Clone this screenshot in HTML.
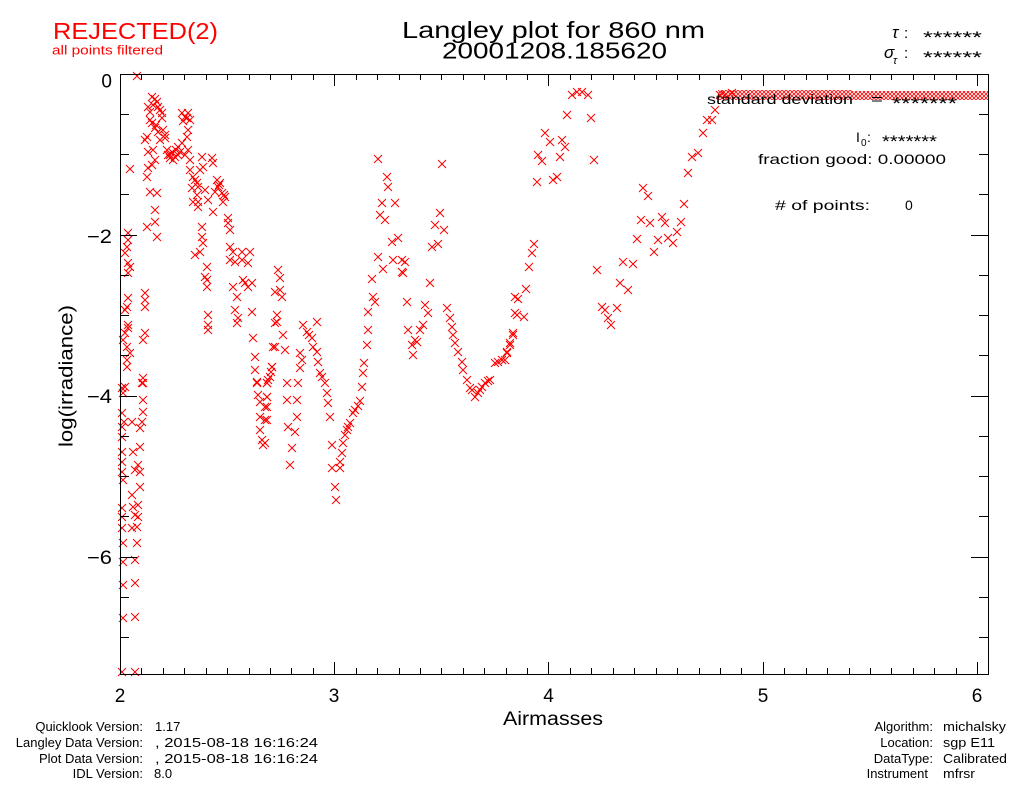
<!DOCTYPE html>
<html><head><meta charset="utf-8"><style>
html,body{margin:0;padding:0;background:#fff;}
svg{display:block;}
text{font-family:"Liberation Sans",sans-serif;}
</style></head><body>
<svg width="1024" height="786" viewBox="0 0 1024 786" xmlns="http://www.w3.org/2000/svg" xmlns:xlink="http://www.w3.org/1999/xlink">
<rect width="1024" height="786" fill="#fff"/>
<defs>
<path id="c" d="M-4-4L4 4M-4 4L4-4" stroke="#f00" stroke-width="1" fill="none"/>
<pattern id="hatch" patternUnits="userSpaceOnUse" x="0" y="0" width="4" height="4">
<path d="M0 0L4 4M0 4L4 0" stroke="#f00" stroke-width="0.8" fill="none"/>
</pattern>
</defs>

<!-- header texts -->
<text x="53" y="39" font-size="23" fill="#f00" textLength="165" lengthAdjust="spacingAndGlyphs">REJECTED(2)</text>
<text x="52" y="54.5" font-size="13" fill="#f00" textLength="111" lengthAdjust="spacingAndGlyphs">all points filtered</text>
<text x="402" y="38" font-size="23" fill="#000" textLength="303" lengthAdjust="spacingAndGlyphs">Langley plot for 860 nm</text>
<text x="442" y="58.5" font-size="23" fill="#000" textLength="225" lengthAdjust="spacingAndGlyphs">20001208.185620</text>

<text x="892" y="38" font-size="17" font-style="italic" fill="#000">τ</text>
<text x="904" y="38" font-size="15" fill="#000">:</text>
<text x="923" y="43" font-size="17" fill="#000" textLength="59" lengthAdjust="spacingAndGlyphs">******</text>
<text x="884" y="58" font-size="17" font-style="italic" fill="#000">σ</text>
<text x="893" y="64" font-size="11" font-style="italic" fill="#000">τ</text>
<text x="904" y="58" font-size="15" fill="#000">:</text>
<text x="923" y="63" font-size="17" fill="#000" textLength="59" lengthAdjust="spacingAndGlyphs">******</text>

<!-- data band -->
<rect x="718" y="90" width="134" height="10" fill="url(#hatch)"/>
<rect x="852" y="91" width="136" height="9" fill="url(#hatch)"/>

<!-- points -->
<g>
<use xlink:href="#c" x="137" y="76"/>
<use xlink:href="#c" x="152" y="97"/><use xlink:href="#c" x="157" y="102"/><use xlink:href="#c" x="158" y="107"/><use xlink:href="#c" x="153" y="105"/><use xlink:href="#c" x="148" y="107"/><use xlink:href="#c" x="162" y="113"/><use xlink:href="#c" x="162" y="118"/><use xlink:href="#c" x="150" y="120"/><use xlink:href="#c" x="152" y="123"/><use xlink:href="#c" x="155" y="128"/><use xlink:href="#c" x="158" y="132"/><use xlink:href="#c" x="165" y="135"/><use xlink:href="#c" x="165" y="138"/><use xlink:href="#c" x="147" y="137"/><use xlink:href="#c" x="145" y="140"/><use xlink:href="#c" x="148" y="152"/><use xlink:href="#c" x="153" y="150"/><use xlink:href="#c" x="155" y="160"/><use xlink:href="#c" x="152" y="165"/><use xlink:href="#c" x="148" y="168"/><use xlink:href="#c" x="147" y="177"/><use xlink:href="#c" x="150" y="192"/><use xlink:href="#c" x="157" y="193"/><use xlink:href="#c" x="155" y="210"/><use xlink:href="#c" x="155" y="222"/><use xlink:href="#c" x="147" y="227"/><use xlink:href="#c" x="157" y="237"/><use xlink:href="#c" x="130" y="169"/>
<use xlink:href="#c" x="155" y="99"/><use xlink:href="#c" x="160" y="110"/><use xlink:href="#c" x="150" y="112"/><use xlink:href="#c" x="156" y="125"/><use xlink:href="#c" x="163" y="130"/><use xlink:href="#c" x="160" y="140"/>
<use xlink:href="#c" x="185" y="117"/><use xlink:href="#c" x="182" y="113"/><use xlink:href="#c" x="187" y="118"/><use xlink:href="#c" x="183" y="121"/><use xlink:href="#c" x="188" y="113"/><use xlink:href="#c" x="190" y="120"/>
<use xlink:href="#c" x="167" y="150"/><use xlink:href="#c" x="170" y="155"/><use xlink:href="#c" x="175" y="157"/><use xlink:href="#c" x="173" y="160"/><use xlink:href="#c" x="178" y="147"/><use xlink:href="#c" x="182" y="143"/><use xlink:href="#c" x="180" y="152"/><use xlink:href="#c" x="185" y="155"/><use xlink:href="#c" x="168" y="155"/><use xlink:href="#c" x="172" y="152"/><use xlink:href="#c" x="176" y="150"/><use xlink:href="#c" x="170" y="158"/><use xlink:href="#c" x="178" y="155"/>
<use xlink:href="#c" x="188" y="130"/><use xlink:href="#c" x="187" y="137"/><use xlink:href="#c" x="188" y="150"/><use xlink:href="#c" x="190" y="160"/>
<use xlink:href="#c" x="190" y="170"/><use xlink:href="#c" x="193" y="177"/><use xlink:href="#c" x="195" y="180"/><use xlink:href="#c" x="197" y="183"/><use xlink:href="#c" x="198" y="187"/><use xlink:href="#c" x="192" y="188"/><use xlink:href="#c" x="197" y="195"/><use xlink:href="#c" x="198" y="202"/><use xlink:href="#c" x="193" y="202"/><use xlink:href="#c" x="198" y="207"/>
<use xlink:href="#c" x="202" y="157"/><use xlink:href="#c" x="212" y="158"/><use xlink:href="#c" x="213" y="163"/><use xlink:href="#c" x="203" y="167"/><use xlink:href="#c" x="200" y="170"/><use xlink:href="#c" x="205" y="190"/><use xlink:href="#c" x="217" y="180"/><use xlink:href="#c" x="220" y="183"/><use xlink:href="#c" x="218" y="187"/><use xlink:href="#c" x="222" y="193"/><use xlink:href="#c" x="225" y="197"/><use xlink:href="#c" x="223" y="202"/><use xlink:href="#c" x="215" y="192"/><use xlink:href="#c" x="213" y="212"/><use xlink:href="#c" x="208" y="200"/><use xlink:href="#c" x="219" y="185"/><use xlink:href="#c" x="224" y="195"/>
<use xlink:href="#c" x="228" y="218"/><use xlink:href="#c" x="228" y="223"/><use xlink:href="#c" x="230" y="230"/>
<use xlink:href="#c" x="202" y="227"/><use xlink:href="#c" x="202" y="237"/><use xlink:href="#c" x="203" y="243"/><use xlink:href="#c" x="200" y="252"/><use xlink:href="#c" x="195" y="255"/>
<use xlink:href="#c" x="207" y="267"/><use xlink:href="#c" x="205" y="277"/><use xlink:href="#c" x="207" y="280"/><use xlink:href="#c" x="207" y="287"/>
<use xlink:href="#c" x="208" y="315"/><use xlink:href="#c" x="208" y="325"/><use xlink:href="#c" x="208" y="330"/>
<use xlink:href="#c" x="230" y="247"/><use xlink:href="#c" x="233" y="252"/><use xlink:href="#c" x="230" y="260"/><use xlink:href="#c" x="235" y="262"/><use xlink:href="#c" x="242" y="252"/><use xlink:href="#c" x="242" y="260"/><use xlink:href="#c" x="250" y="252"/><use xlink:href="#c" x="248" y="263"/><use xlink:href="#c" x="243" y="280"/><use xlink:href="#c" x="245" y="283"/><use xlink:href="#c" x="248" y="287"/><use xlink:href="#c" x="252" y="283"/><use xlink:href="#c" x="233" y="287"/><use xlink:href="#c" x="237" y="297"/><use xlink:href="#c" x="235" y="310"/><use xlink:href="#c" x="238" y="318"/><use xlink:href="#c" x="237" y="323"/><use xlink:href="#c" x="252" y="312"/><use xlink:href="#c" x="253" y="338"/><use xlink:href="#c" x="255" y="357"/><use xlink:href="#c" x="255" y="370"/><use xlink:href="#c" x="257" y="382"/><use xlink:href="#c" x="268" y="380"/><use xlink:href="#c" x="272" y="367"/><use xlink:href="#c" x="273" y="347"/><use xlink:href="#c" x="275" y="323"/><use xlink:href="#c" x="275" y="292"/>
<use xlink:href="#c" x="128" y="233"/><use xlink:href="#c" x="128" y="240"/><use xlink:href="#c" x="127" y="247"/><use xlink:href="#c" x="125" y="253"/><use xlink:href="#c" x="128" y="263"/><use xlink:href="#c" x="130" y="267"/><use xlink:href="#c" x="128" y="273"/><use xlink:href="#c" x="128" y="298"/><use xlink:href="#c" x="127" y="307"/><use xlink:href="#c" x="125" y="310"/><use xlink:href="#c" x="128" y="325"/><use xlink:href="#c" x="128" y="328"/><use xlink:href="#c" x="125" y="333"/><use xlink:href="#c" x="127" y="347"/><use xlink:href="#c" x="130" y="353"/><use xlink:href="#c" x="127" y="360"/><use xlink:href="#c" x="127" y="367"/><use xlink:href="#c" x="125" y="387"/><use xlink:href="#c" x="123" y="340"/>
<use xlink:href="#c" x="145" y="293"/><use xlink:href="#c" x="145" y="300"/><use xlink:href="#c" x="145" y="307"/><use xlink:href="#c" x="145" y="333"/><use xlink:href="#c" x="143" y="340"/><use xlink:href="#c" x="143" y="378"/><use xlink:href="#c" x="142" y="383"/>
<use xlink:href="#c" x="122" y="388"/><use xlink:href="#c" x="123" y="393"/><use xlink:href="#c" x="122" y="413"/><use xlink:href="#c" x="124" y="422"/><use xlink:href="#c" x="122" y="427"/><use xlink:href="#c" x="122" y="437"/><use xlink:href="#c" x="122" y="452"/><use xlink:href="#c" x="122" y="462"/><use xlink:href="#c" x="122" y="472"/><use xlink:href="#c" x="123" y="480"/><use xlink:href="#c" x="122" y="508"/><use xlink:href="#c" x="122" y="517"/><use xlink:href="#c" x="122" y="528"/><use xlink:href="#c" x="123" y="543"/><use xlink:href="#c" x="123" y="562"/><use xlink:href="#c" x="123" y="585"/><use xlink:href="#c" x="123" y="618"/><use xlink:href="#c" x="122" y="672"/>
<use xlink:href="#c" x="143" y="383"/><use xlink:href="#c" x="143" y="400"/><use xlink:href="#c" x="143" y="412"/><use xlink:href="#c" x="142" y="422"/><use xlink:href="#c" x="140" y="428"/><use xlink:href="#c" x="132" y="422"/><use xlink:href="#c" x="133" y="452"/><use xlink:href="#c" x="140" y="447"/><use xlink:href="#c" x="138" y="465"/><use xlink:href="#c" x="140" y="472"/><use xlink:href="#c" x="135" y="470"/><use xlink:href="#c" x="140" y="487"/><use xlink:href="#c" x="132" y="495"/><use xlink:href="#c" x="138" y="505"/><use xlink:href="#c" x="133" y="507"/><use xlink:href="#c" x="135" y="515"/><use xlink:href="#c" x="138" y="517"/><use xlink:href="#c" x="137" y="527"/><use xlink:href="#c" x="132" y="528"/><use xlink:href="#c" x="137" y="543"/><use xlink:href="#c" x="135" y="560"/><use xlink:href="#c" x="135" y="583"/><use xlink:href="#c" x="135" y="617"/><use xlink:href="#c" x="135" y="672"/>
<use xlink:href="#c" x="257" y="383"/><use xlink:href="#c" x="267" y="383"/><use xlink:href="#c" x="258" y="395"/><use xlink:href="#c" x="267" y="397"/><use xlink:href="#c" x="260" y="402"/><use xlink:href="#c" x="265" y="407"/><use xlink:href="#c" x="260" y="417"/><use xlink:href="#c" x="265" y="420"/><use xlink:href="#c" x="260" y="430"/><use xlink:href="#c" x="262" y="440"/><use xlink:href="#c" x="263" y="445"/>
<use xlink:href="#c" x="378" y="159"/><use xlink:href="#c" x="387" y="177"/><use xlink:href="#c" x="388" y="187"/><use xlink:href="#c" x="382" y="203"/><use xlink:href="#c" x="395" y="203"/><use xlink:href="#c" x="380" y="215"/><use xlink:href="#c" x="385" y="220"/><use xlink:href="#c" x="392" y="242"/><use xlink:href="#c" x="398" y="238"/><use xlink:href="#c" x="378" y="257"/><use xlink:href="#c" x="393" y="260"/><use xlink:href="#c" x="402" y="260"/><use xlink:href="#c" x="405" y="262"/><use xlink:href="#c" x="383" y="269"/><use xlink:href="#c" x="402" y="272"/><use xlink:href="#c" x="403" y="273"/><use xlink:href="#c" x="372" y="279"/><use xlink:href="#c" x="373" y="297"/><use xlink:href="#c" x="375" y="302"/><use xlink:href="#c" x="368" y="312"/><use xlink:href="#c" x="368" y="330"/><use xlink:href="#c" x="367" y="345"/><use xlink:href="#c" x="364" y="363"/><use xlink:href="#c" x="363" y="373"/><use xlink:href="#c" x="362" y="387"/><use xlink:href="#c" x="360" y="401"/><use xlink:href="#c" x="358" y="406"/><use xlink:href="#c" x="353" y="413"/><use xlink:href="#c" x="350" y="423"/><use xlink:href="#c" x="347" y="430"/><use xlink:href="#c" x="345" y="435"/><use xlink:href="#c" x="343" y="443"/><use xlink:href="#c" x="342" y="453"/><use xlink:href="#c" x="340" y="462"/><use xlink:href="#c" x="332" y="445"/><use xlink:href="#c" x="332" y="468"/><use xlink:href="#c" x="340" y="468"/><use xlink:href="#c" x="335" y="487"/><use xlink:href="#c" x="336" y="500"/><use xlink:href="#c" x="355" y="410"/><use xlink:href="#c" x="348" y="427"/>
<use xlink:href="#c" x="442" y="164"/><use xlink:href="#c" x="440" y="213"/><use xlink:href="#c" x="435" y="225"/><use xlink:href="#c" x="444" y="230"/><use xlink:href="#c" x="432" y="247"/><use xlink:href="#c" x="438" y="244"/><use xlink:href="#c" x="430" y="283"/><use xlink:href="#c" x="407" y="302"/><use xlink:href="#c" x="425" y="305"/><use xlink:href="#c" x="428" y="313"/><use xlink:href="#c" x="423" y="325"/><use xlink:href="#c" x="420" y="330"/><use xlink:href="#c" x="408" y="330"/><use xlink:href="#c" x="417" y="342"/><use xlink:href="#c" x="412" y="345"/><use xlink:href="#c" x="413" y="355"/><use xlink:href="#c" x="415" y="340"/>
<use xlink:href="#c" x="447" y="308"/><use xlink:href="#c" x="450" y="318"/><use xlink:href="#c" x="452" y="327"/><use xlink:href="#c" x="453" y="335"/><use xlink:href="#c" x="455" y="343"/><use xlink:href="#c" x="458" y="352"/><use xlink:href="#c" x="462" y="362"/><use xlink:href="#c" x="463" y="370"/><use xlink:href="#c" x="467" y="380"/><use xlink:href="#c" x="470" y="388"/><use xlink:href="#c" x="475" y="397"/><use xlink:href="#c" x="480" y="390"/><use xlink:href="#c" x="485" y="383"/><use xlink:href="#c" x="490" y="380"/><use xlink:href="#c" x="495" y="363"/><use xlink:href="#c" x="502" y="360"/><use xlink:href="#c" x="507" y="352"/><use xlink:href="#c" x="510" y="343"/><use xlink:href="#c" x="513" y="333"/><use xlink:href="#c" x="515" y="313"/><use xlink:href="#c" x="515" y="297"/><use xlink:href="#c" x="472" y="390"/><use xlink:href="#c" x="478" y="393"/><use xlink:href="#c" x="482" y="387"/><use xlink:href="#c" x="488" y="381"/><use xlink:href="#c" x="498" y="362"/>
<use xlink:href="#c" x="278" y="270"/><use xlink:href="#c" x="280" y="278"/><use xlink:href="#c" x="280" y="290"/><use xlink:href="#c" x="282" y="297"/><use xlink:href="#c" x="277" y="315"/><use xlink:href="#c" x="277" y="322"/><use xlink:href="#c" x="283" y="335"/><use xlink:href="#c" x="275" y="347"/><use xlink:href="#c" x="285" y="350"/><use xlink:href="#c" x="272" y="367"/><use xlink:href="#c" x="270" y="377"/><use xlink:href="#c" x="267" y="383"/><use xlink:href="#c" x="267" y="397"/><use xlink:href="#c" x="267" y="407"/><use xlink:href="#c" x="267" y="420"/><use xlink:href="#c" x="265" y="443"/><use xlink:href="#c" x="287" y="383"/><use xlink:href="#c" x="298" y="383"/><use xlink:href="#c" x="287" y="400"/><use xlink:href="#c" x="297" y="400"/><use xlink:href="#c" x="297" y="417"/><use xlink:href="#c" x="288" y="427"/><use xlink:href="#c" x="295" y="432"/><use xlink:href="#c" x="292" y="448"/><use xlink:href="#c" x="290" y="465"/><use xlink:href="#c" x="271" y="372"/>
<use xlink:href="#c" x="300" y="353"/><use xlink:href="#c" x="302" y="360"/><use xlink:href="#c" x="300" y="368"/><use xlink:href="#c" x="303" y="325"/><use xlink:href="#c" x="307" y="332"/><use xlink:href="#c" x="312" y="338"/><use xlink:href="#c" x="317" y="322"/><use xlink:href="#c" x="313" y="347"/><use xlink:href="#c" x="317" y="352"/><use xlink:href="#c" x="318" y="362"/><use xlink:href="#c" x="322" y="377"/><use xlink:href="#c" x="325" y="383"/><use xlink:href="#c" x="327" y="393"/><use xlink:href="#c" x="328" y="403"/><use xlink:href="#c" x="330" y="417"/><use xlink:href="#c" x="309" y="335"/><use xlink:href="#c" x="320" y="373"/>
<use xlink:href="#c" x="572" y="95"/><use xlink:href="#c" x="582" y="92"/><use xlink:href="#c" x="588" y="95"/><use xlink:href="#c" x="577" y="92"/><use xlink:href="#c" x="567" y="115"/><use xlink:href="#c" x="591" y="118"/><use xlink:href="#c" x="545" y="133"/><use xlink:href="#c" x="550" y="142"/><use xlink:href="#c" x="562" y="140"/><use xlink:href="#c" x="565" y="147"/><use xlink:href="#c" x="538" y="155"/><use xlink:href="#c" x="542" y="161"/><use xlink:href="#c" x="560" y="157"/><use xlink:href="#c" x="594" y="160"/><use xlink:href="#c" x="537" y="182"/><use xlink:href="#c" x="553" y="180"/><use xlink:href="#c" x="557" y="177"/>
<use xlink:href="#c" x="534" y="244"/><use xlink:href="#c" x="532" y="253"/><use xlink:href="#c" x="529" y="267"/><use xlink:href="#c" x="526" y="289"/><use xlink:href="#c" x="518" y="299"/><use xlink:href="#c" x="517" y="315"/><use xlink:href="#c" x="524" y="317"/><use xlink:href="#c" x="513" y="335"/><use xlink:href="#c" x="510" y="345"/><use xlink:href="#c" x="507" y="353"/><use xlink:href="#c" x="505" y="360"/>
<use xlink:href="#c" x="597" y="270"/><use xlink:href="#c" x="602" y="307"/><use xlink:href="#c" x="617" y="308"/><use xlink:href="#c" x="608" y="318"/><use xlink:href="#c" x="611" y="325"/><use xlink:href="#c" x="605" y="310"/><use xlink:href="#c" x="620" y="283"/><use xlink:href="#c" x="628" y="290"/><use xlink:href="#c" x="623" y="262"/><use xlink:href="#c" x="633" y="264"/><use xlink:href="#c" x="637" y="239"/><use xlink:href="#c" x="641" y="220"/><use xlink:href="#c" x="650" y="223"/><use xlink:href="#c" x="643" y="188"/><use xlink:href="#c" x="648" y="196"/><use xlink:href="#c" x="654" y="252"/><use xlink:href="#c" x="658" y="240"/><use xlink:href="#c" x="662" y="217"/><use xlink:href="#c" x="665" y="223"/><use xlink:href="#c" x="668" y="238"/><use xlink:href="#c" x="673" y="243"/><use xlink:href="#c" x="677" y="232"/><use xlink:href="#c" x="681" y="222"/><use xlink:href="#c" x="684" y="204"/><use xlink:href="#c" x="688" y="173"/><use xlink:href="#c" x="692" y="157"/><use xlink:href="#c" x="698" y="153"/><use xlink:href="#c" x="703" y="133"/><use xlink:href="#c" x="707" y="120"/><use xlink:href="#c" x="712" y="120"/><use xlink:href="#c" x="715" y="110"/><use xlink:href="#c" x="725" y="95"/><use xlink:href="#c" x="732" y="93"/><use xlink:href="#c" x="720" y="95"/>
</g>

<!-- axes -->
<g stroke="#000" stroke-width="1" fill="none" shape-rendering="crispEdges">
<rect x="120.5" y="74.5" width="868" height="600"/>
<path d="M120.5 674v-12M334.5 674v-12M548.5 674v-12M763.5 674v-12M977.5 674v-12M120.5 74v12M334.5 74v12M548.5 74v12M763.5 74v12M977.5 74v12"/>
<path d="M141.5 674v-6M163.5 674v-6M184.5 674v-6M206.5 674v-6M227.5 674v-6M249.5 674v-6M270.5 674v-6M291.5 674v-6M313.5 674v-6M356.5 674v-6M377.5 674v-6M399.5 674v-6M420.5 674v-6M441.5 674v-6M463.5 674v-6M484.5 674v-6M506.5 674v-6M527.5 674v-6M570.5 674v-6M591.5 674v-6M613.5 674v-6M634.5 674v-6M656.5 674v-6M677.5 674v-6M699.5 674v-6M720.5 674v-6M741.5 674v-6M784.5 674v-6M806.5 674v-6M827.5 674v-6M849.5 674v-6M870.5 674v-6M891.5 674v-6M913.5 674v-6M934.5 674v-6M956.5 674v-6"/>
<path d="M141.5 74v6M163.5 74v6M184.5 74v6M206.5 74v6M227.5 74v6M249.5 74v6M270.5 74v6M291.5 74v6M313.5 74v6M356.5 74v6M377.5 74v6M399.5 74v6M420.5 74v6M441.5 74v6M463.5 74v6M484.5 74v6M506.5 74v6M527.5 74v6M570.5 74v6M591.5 74v6M613.5 74v6M634.5 74v6M656.5 74v6M677.5 74v6M699.5 74v6M720.5 74v6M741.5 74v6M784.5 74v6M806.5 74v6M827.5 74v6M849.5 74v6M870.5 74v6M891.5 74v6M913.5 74v6M934.5 74v6M956.5 74v6"/>
<path d="M120 235.5h17M120 396.5h17M120 557.5h17M988 235.5h-17M988 396.5h-17M988 557.5h-17"/>
<path d="M120 114.5h9M120 154.5h9M120 194.5h9M120 275.5h9M120 315.5h9M120 355.5h9M120 436.5h9M120 476.5h9M120 516.5h9M120 597.5h9M120 637.5h9M988 114.5h-9M988 154.5h-9M988 194.5h-9M988 275.5h-9M988 315.5h-9M988 355.5h-9M988 436.5h-9M988 476.5h-9M988 516.5h-9M988 597.5h-9M988 637.5h-9"/>
</g>

<!-- in-plot texts -->
<g fill="#000" font-size="14">
<text x="707" y="104" textLength="146" lengthAdjust="spacingAndGlyphs">standard deviation</text>
<text x="871" y="104" textLength="12" lengthAdjust="spacingAndGlyphs">=</text>
<text x="892" y="109" font-size="17" textLength="65" lengthAdjust="spacingAndGlyphs">*******</text>
<text x="856" y="142">I</text>
<text x="861" y="146" font-size="10">0</text>
<text x="867" y="142">:</text>
<text x="882" y="147" font-size="17" textLength="55" lengthAdjust="spacingAndGlyphs">*******</text>
<text x="758" y="164" textLength="188" lengthAdjust="spacingAndGlyphs">fraction good: 0.00000</text>
<text x="775" y="210" textLength="95" lengthAdjust="spacingAndGlyphs"># of points:</text>
<text x="905" y="210">0</text>
</g>

<!-- axis labels -->
<g fill="#000" font-size="19">
<text x="112" y="87.5" text-anchor="end">0</text>
<text x="87" y="243" textLength="25" lengthAdjust="spacingAndGlyphs">−2</text>
<text x="87" y="403" textLength="25" lengthAdjust="spacingAndGlyphs">−4</text>
<text x="87" y="564" textLength="25" lengthAdjust="spacingAndGlyphs">−6</text>
<text x="120" y="702" text-anchor="middle">2</text>
<text x="334" y="702" text-anchor="middle">3</text>
<text x="548.5" y="702" text-anchor="middle">4</text>
<text x="763" y="702" text-anchor="middle">5</text>
<text x="977" y="702" text-anchor="middle">6</text>
<text x="503" y="725" textLength="100" lengthAdjust="spacingAndGlyphs">Airmasses</text>
<text transform="translate(72.5 447) rotate(-90)" x="0" y="0" textLength="142" lengthAdjust="spacingAndGlyphs">log(irradiance)</text>
</g>

<!-- footer -->
<g fill="#000" font-size="13">
<text x="143" y="731" text-anchor="end">Quicklook Version:</text>
<text x="143" y="747" text-anchor="end">Langley Data Version:</text>
<text x="143" y="763" text-anchor="end">Plot Data Version:</text>
<text x="143" y="778" text-anchor="end">IDL Version:</text>
<text x="155" y="731">1.17</text>
<text x="155" y="747" textLength="163" lengthAdjust="spacingAndGlyphs">, 2015-08-18 16:16:24</text>
<text x="155" y="763" textLength="163" lengthAdjust="spacingAndGlyphs">, 2015-08-18 16:16:24</text>
<text x="154" y="778">8.0</text>
<text x="933" y="731" text-anchor="end">Algorithm:</text>
<text x="933" y="747" text-anchor="end">Location:</text>
<text x="933" y="763" text-anchor="end">DataType:</text>
<text x="928" y="778" text-anchor="end">Instrument</text>
<text x="943" y="731" textLength="63" lengthAdjust="spacingAndGlyphs">michalsky</text>
<text x="943" y="747" textLength="52" lengthAdjust="spacingAndGlyphs">sgp E11</text>
<text x="943" y="763" textLength="64" lengthAdjust="spacingAndGlyphs">Calibrated</text>
<text x="943" y="778" textLength="32" lengthAdjust="spacingAndGlyphs">mfrsr</text>
</g>
</svg>
</body></html>
